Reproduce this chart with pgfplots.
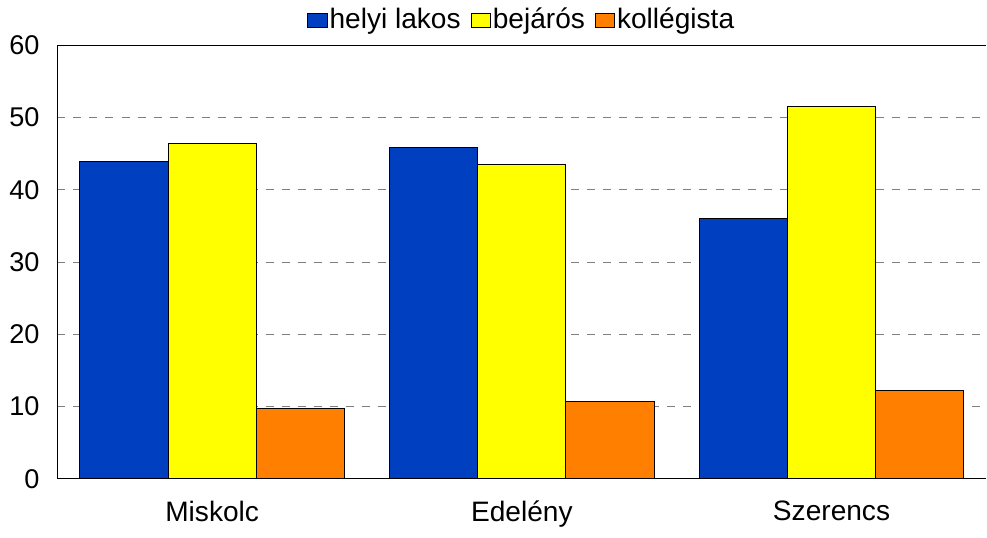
\documentclass[border=0pt]{standalone}
\usepackage{fontspec}
\setmainfont{Liberation Sans}
\usepackage{pgfplots}
\pgfplotsset{compat=1.18}
\definecolor{cblue}{HTML}{0040C0}
\definecolor{cyellow}{HTML}{FFFF00}
\definecolor{corange}{HTML}{FF8000}
\begin{document}
\fontsize{14}{16.5}\selectfont
\begin{tikzpicture}
\begin{axis}[
  scale only axis,
  width=463pt, height=216pt,
  ybar, bar width=0.285,
  xmin=-0.5, xmax=2.5,
  ymin=0, ymax=60,
  xtick=data,
  xticklabels={Miskolc, Edelény, Szerencs},
  ytick={0,10,...,60},
  axis x line*=bottom,
  axis y line*=left,
  axis line style={black, line width=0.6pt},
  tick style={draw=none},
  ymajorgrids,
  grid style={gray, dash pattern=on 4pt off 4pt, line width=0.5pt},
  /pgf/number format/assume math mode=true,
  yticklabel style={font=\fontsize{13.5}{16}\selectfont, xshift=-4pt},
  xticklabel style={font=\fontsize{14}{16.5}\selectfont, yshift=-2pt},
  legend style={at={(0.5,1)}, anchor=south, yshift=2pt, draw=none,
    legend columns=-1, font=\fontsize{14}{16.5}\selectfont,
    nodes={inner xsep=1pt},
    /tikz/every even column/.append style={column sep=4pt}},
  legend image code/.code={\draw[#1, line width=0.5pt] (0pt,-3.5pt) rectangle (9.5pt,3.5pt);},
  clip=false,
]
\addplot[fill=cblue, draw=black, line width=0.5pt, bar shift=-0.285]
  coordinates {(0,43.9) (1,45.8) (2,36.1)};
\addplot[fill=cyellow, draw=black, line width=0.5pt, bar shift=0]
  coordinates {(0,46.4) (1,43.5) (2,51.6)};
\addplot[fill=corange, draw=black, line width=0.5pt, bar shift=0.285]
  coordinates {(0,9.7) (1,10.7) (2,12.2)};
\legend{helyi lakos, bejárós, kollégista}
\draw[black, line width=0.6pt] (rel axis cs:0,1) -- (rel axis cs:1,1);
\end{axis}
\end{tikzpicture}
\end{document}
